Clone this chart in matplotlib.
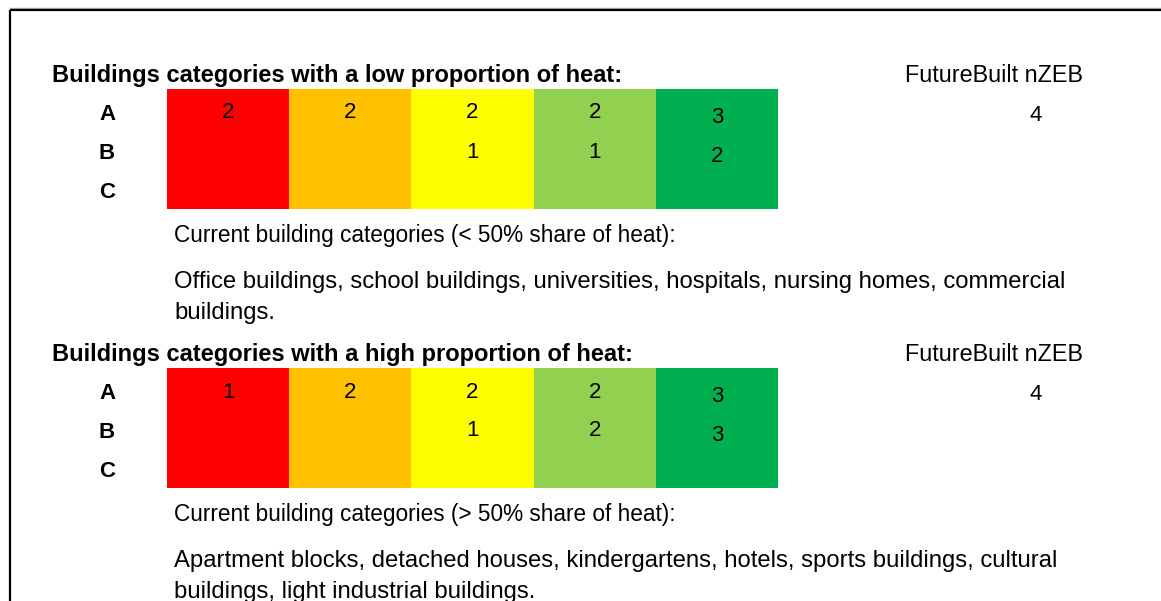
import matplotlib.pyplot as plt
from matplotlib.patches import Rectangle

plt.rcParams['font.family'] = ['Liberation Sans', 'DejaVu Sans']

# energy classes (columns) and their colours
classes = ['G', 'F', 'E', 'D', 'C']
class_colors = ['#FF0000', '#FFC000', '#FFFF00', '#92D050', '#00B050']
rows = ['A', 'B', 'C']

# requirement numbers per row (None = empty cell)
low_A = [2, 2, 2, 2, 3]
low_B = [None, None, 1, 1, 2]
high_A = [1, 2, 2, 2, 3]
high_B = [None, None, 1, 2, 3]
nzeb_low = 4
nzeb_high = 4

blocks = [
    {
        'title': 'Buildings categories with a low proportion of heat:',
        'values': [low_A, low_B, [None] * 5],
        'nzeb': nzeb_low,
        'sub': 'Current building categories (< 50% share of heat):',
        'desc': ['Office buildings, school buildings, universities, hospitals, nursing homes, commercial',
                 'buildings.'],
    },
    {
        'title': 'Buildings categories with a high proportion of heat:',
        'values': [high_A, high_B, [None] * 5],
        'nzeb': nzeb_high,
        'sub': 'Current building categories (> 50% share of heat):',
        'desc': ['Apartment blocks, detached houses, kindergartens, hotels, sports buildings, cultural',
                 'buildings, light industrial buildings.'],
    },
]

W, H = 1161, 601
fig = plt.figure(figsize=(W / 100, H / 100), dpi=100)
ax = fig.add_axes([0, 0, 1, 1])
ax.set_xlim(0, W)
ax.set_ylim(H, 0)
ax.axis('off')

# frame
ax.plot([10, W], [8, 8], color='#b0b0b0', lw=1)
ax.plot([10, W], [10, 10], color='black', lw=1.6, solid_capstyle='butt')
ax.plot([10, 10], [10, H], color='black', lw=1.6, solid_capstyle='butt')

x0, col_w = 167, 122.2
row_h = 40
fs = 16

for b, top in zip(blocks, [89, 368]):
    ax.text(52, top - 7, b['title'], fontsize=17, fontweight='bold', va='baseline', ha='left')
    ax.text(905, top - 7, 'FutureBuilt nZEB', fontsize=16.8, va='baseline', ha='left')
    for i, c in enumerate(class_colors):
        ax.add_patch(Rectangle((x0 + i * col_w, top), col_w, row_h * len(rows),
                               facecolor=c, edgecolor='none'))
    for r, (lab, vals) in enumerate(zip(rows, b['values'])):
        base = top + 31 + r * 39
        ax.text(107, base, lab, fontsize=fs, fontweight='bold', va='baseline', ha='center')
        for i, v in enumerate(vals):
            if v is not None:
                dy = 3 if i == len(vals) - 1 else -1.5
                ax.text(x0 + (i + 0.5) * col_w, base + dy, str(v), fontsize=fs,
                        va='baseline', ha='center')
    ax.text(1036, top + 32, str(b['nzeb']), fontsize=fs, va='baseline', ha='center')
    ax.text(174, top + 153, b['sub'], fontsize=16.3, va='baseline', ha='left')
    for k, line in enumerate(b['desc']):
        ax.text(174, top + 199 + k * 31, line, fontsize=17.2, va='baseline', ha='left')

fig.savefig('out.png', dpi=100)
